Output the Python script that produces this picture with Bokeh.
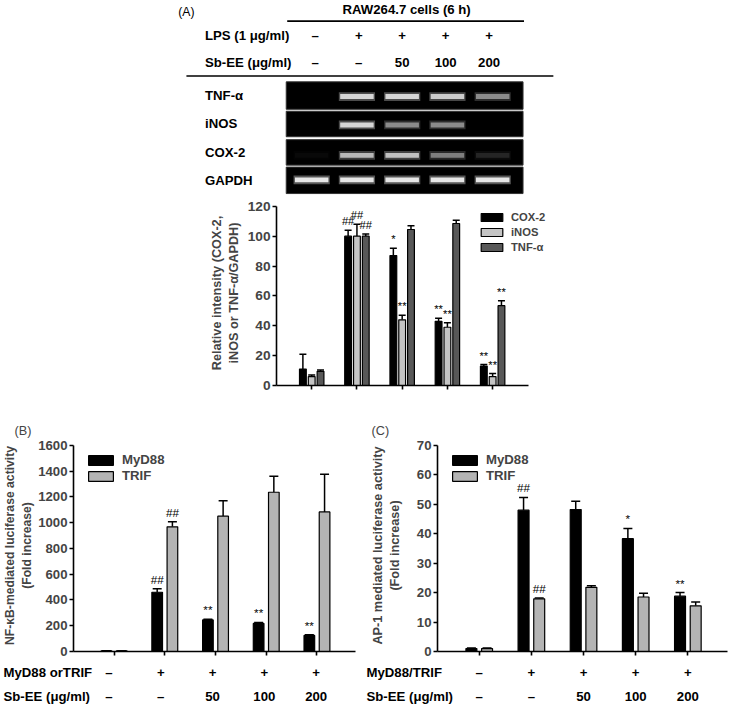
from bokeh.plotting import figure
from bokeh.models import Range1d, ColumnDataSource, Whisker, TeeHead, Legend, LegendItem
from bokeh.layouts import column, row
from bokeh.core.properties import value
from bokeh.embed import file_html
from bokeh.resources import INLINE

# ---------------- data ----------------
lanes = [1, 2, 3, 4, 5]
lps_row = ["–", "+", "+", "+", "+"]
sbee_row = ["–", "–", "50", "100", "200"]
table_title = "RAW264.7 cells (6 h)"
lps_label = "LPS (1 μg/ml)"
sbee_label = "Sb-EE (μg/ml)"

gel_genes = ["TNF-α", "iNOS", "COX-2", "GAPDH"]
tnf_band = [0.0, 0.85, 0.85, 0.8, 0.5]
inos_band = [0.0, 0.85, 0.5, 0.5, 0.0]
cox2_band = [0.03, 0.7, 0.75, 0.45, 0.12]
gapdh_band = [0.95, 0.95, 0.95, 0.95, 0.95]

a_names = ["COX-2", "iNOS", "TNF-α"]
a_cox2 = [11, 100, 87, 43, 13]
a_cox2_err = [10, 4, 5, 2, 1]
a_inos = [6, 100, 44, 39, 6]
a_inos_err = [1, 8, 3, 3, 2]
a_tnf = [9.5, 100, 104.5, 108.5, 53.5]
a_tnf_err = [0.8, 1.5, 2.5, 2.2, 3.3]
a_cox2_sig = ["", "##", "*", "**", "**"]
a_inos_sig = ["", "##", "**", "**", "**"]
a_tnf_sig = ["", "##", "", "", "**"]
a_yticks = [0, 20, 40, 60, 80, 100, 120]

b_names = ["MyD88", "TRIF"]
b_myd88 = [5, 460, 245, 218, 125]
b_myd88_err = [1, 27, 6, 8, 5]
b_trif = [5, 968, 1050, 1236, 1083]
b_trif_err = [1, 40, 120, 125, 293]
b_myd88_sig = ["", "##", "**", "**", "**"]
b_trif_sig = ["", "##", "", "", ""]
b_yticks = [0, 200, 400, 600, 800, 1000, 1200, 1400, 1600]
b_row1_label = "MyD88 orTRIF"

c_myd88 = [1, 48, 48.2, 38.3, 18.8]
c_myd88_err = [0.2, 4.3, 2.8, 3.5, 1.2]
c_trif = [1, 17.9, 21.8, 18.5, 15.5]
c_trif_err = [0.2, 0.3, 0.5, 1.3, 1.3]
c_myd88_sig = ["", "##", "", "*", "**"]
c_trif_sig = ["", "##", "", "", ""]
c_yticks = [0, 10, 20, 30, 40, 50, 60, 70]
c_row1_label = "MyD88/TRIF"

# ---------------- layout helpers ----------------
SC = 0.978
def S(v):
    return int(round(v * SC))
def fs(v):
    return f"{v * SC:.1f}px"
FONT = "Liberation Sans"
W = S(745)

def lane(px):  # reference pixel -> lane unit in panel A
    return 1 + (px - 318) / 46.25

def base_fig(width, height, xr, yr, **kw):
    p = figure(width=width, height=height, x_range=xr, y_range=yr,
               output_backend="svg", toolbar_location=None, **kw)
    p.outline_line_color = None
    p.background_fill_color = "white"
    p.border_fill_color = "white"
    if "frame_align" in p.properties():
        p.frame_align = False
    return p

def style_axes(p, tick_fs, label_fs, label_standoff):
    for ax in p.axis:
        ax.axis_line_width = 1.6
        ax.major_tick_line_width = 1.6
        ax.minor_tick_line_color = None
        ax.major_tick_in = 0
        ax.major_tick_out = S(4)
        ax.major_label_text_font = FONT
        ax.major_label_text_font_style = "bold"
        ax.major_label_text_font_size = fs(tick_fs)
        ax.major_label_standoff = S(2)
        ax.axis_label_text_font = FONT
        ax.axis_label_text_font_style = "bold"
        ax.axis_label_text_font_size = fs(label_fs)
        ax.axis_label_standoff = S(label_standoff)
    p.xaxis.major_label_overrides = {l: "" for l in lanes}
    p.xaxis.major_label_standoff = 0
    p.xgrid.visible = False
    p.ygrid.visible = False

def add_series(p, xs, vals, errs, sig, color, width, head, sig_fs):
    ups = [v + e for v, e in zip(vals, errs)]
    src = ColumnDataSource(dict(x=xs, top=vals, up=ups))
    r = p.vbar(x="x", top="top", width=width, source=src, fill_color=color,
               line_color="black", line_width=1.2)
    p.add_layout(Whisker(source=src, base="x", lower="top", upper="up", line_width=1.5,
                         upper_head=TeeHead(size=head, line_width=1.5), lower_head=None))
    keep = [i for i, s in enumerate(sig) if s]
    if keep:
        p.text(x=[xs[i] for i in keep], y=[ups[i] for i in keep], text=[sig[i] for i in keep],
               text_align="center", text_baseline="bottom", y_offset=-S(3),
               text_font=value(FONT), text_font_size=fs(sig_fs), text_color="black")
    return r

# ---------------- gel / table (top of panel A) ----------------
gel_h = S(200)
g = base_fig(W, gel_h, Range1d(lane(0), lane(745)), Range1d(200, 0),
             x_axis_type=None, y_axis_type=None,
             min_border_left=0, min_border_right=0, min_border_top=0, min_border_bottom=0)
g.text(x=[lane(190)], y=[12], text=["(A)"], text_align="center", text_baseline="middle",
       text_font=value(FONT), text_font_size=fs(12.5))
g.text(x=[lane(415)], y=[9], text=[table_title], text_align="center", text_baseline="middle",
       text_font=value(FONT), text_font_style="bold", text_font_size=fs(13.5))
g.segment(x0=[lane(293), lane(190)], y0=[21, 77], x1=[lane(535), lane(565)], y1=[21, 77],
          line_color="black", line_width=1.6)
table_x = [3 + (l - 3) * 0.96 for l in lanes]
g.text(x=[lane(209)] * 2, y=[36, 63], text=[lps_label, sbee_label], text_align="left",
       text_baseline="middle", text_font=value(FONT), text_font_style="bold", text_font_size=fs(13.5))
g.text(x=table_x + table_x, y=[36] * 5 + [63] * 5, text=lps_row + sbee_row, text_align="center",
       text_baseline="middle", text_font=value(FONT), text_font_style="bold", text_font_size=fs(13.5))
# gel strips
row_top = [83, 113, 142, 170]
row_bot = [111, 139, 168, 197]
band_y = [98, 127, 158, 183]
g.quad(left=[lane(292)] * 4, right=[lane(534)] * 4, top=row_top, bottom=row_bot,
       fill_color="black", line_color="#333333", line_width=1)
g.text(x=[lane(209)] * 4, y=[(a + b) / 2 for a, b in zip(row_top, row_bot)], text=gel_genes,
       text_align="left", text_baseline="middle", text_font=value(FONT), text_font_style="bold",
       text_font_size=fs(13.5))
for inten, by in zip([tnf_band, inos_band, cox2_band, gapdh_band], band_y):
    g.rect(x=lanes, y=[by] * 5, width=0.8, height=9, fill_color="white",
           fill_alpha=[0.35 * i for i in inten], line_color=None)
    g.rect(x=lanes, y=[by] * 5, width=0.74, height=5, fill_color="white",
           fill_alpha=[0.9 * i for i in inten], line_color=None)

# ---------------- panel A chart ----------------
A_FIG_TOP, A_FIG_BOT = 200, 410
A_TOP, A_BOT, A_AX_TOP = 204, 394, 210
A_RIGHT = 600
a_h = S(A_FIG_BOT) - S(A_FIG_TOP)
pA = base_fig(W, a_h, Range1d(lane(282), lane(A_RIGHT)),
              Range1d(0, 120 * (A_BOT - A_TOP) / (A_BOT - A_AX_TOP)),
              min_border_left=S(282), min_border_right=W - S(A_RIGHT),
              min_border_top=S(A_TOP) - S(A_FIG_TOP), min_border_bottom=S(A_FIG_BOT) - S(A_BOT))
offs = [-0.195, 0.0, 0.195]
rA = []
for vals, errs, sig, col, off in zip([a_cox2, a_inos, a_tnf], [a_cox2_err, a_inos_err, a_tnf_err],
                                     [a_cox2_sig, a_inos_sig, a_tnf_sig],
                                     ["black", "#c4c4c4", "#585858"], offs):
    rA.append(add_series(pA, [l + off for l in lanes], vals, errs, sig, col, 0.15, S(7), 11.5))
pA.yaxis.ticker = a_yticks
pA.yaxis.bounds = (0, 120)
pA.xaxis.ticker = lanes
pA.xaxis.bounds = (lane(282), lane(540))
pA.yaxis.axis_label = "Relative intensity (COX-2,\niNOS or TNF-α/GAPDH)"
style_axes(pA, 14, 13, 4)
legA = Legend(items=[LegendItem(label=n, renderers=[r]) for n, r in zip(a_names, rA)],
              location=(S(489 - 282), S(135)), glyph_width=S(28), glyph_height=S(10),
              label_height=S(10), spacing=S(3), padding=0, margin=0, border_line_color=None,
              background_fill_alpha=0, label_text_font=FONT, label_text_font_style="bold",
              label_text_font_size=fs(11.5), label_standoff=S(6))
pA.add_layout(legA)

# ---------------- panels B and C ----------------
B_FIG_TOP, B_FIG_BOT = A_FIG_BOT, 676
F_TOP, F_AX_TOP, F_BOT = 449, 455, 666
chart_h = S(B_FIG_BOT) - S(B_FIG_TOP)
tab_h = S(721) - S(B_FIG_BOT)
wB = S(370)
wC = W - wB

def luc_panel(width, lb_ref, rb_ref, title, myd, myd_e, myd_s, trif, trif_e, trif_s, yticks, ymax,
              ylabel, ylabel_fs, ylabel_standoff, row1_label, label_left_ref):
    xr = Range1d(0.2, 5.76)
    lb = S(lb_ref)
    rb = max(width - S(width / SC - rb_ref), 1)
    p = base_fig(width, chart_h, xr, Range1d(0, ymax * (F_BOT - F_TOP) / (F_BOT - F_AX_TOP)),
                 min_border_left=lb, min_border_right=rb,
                 min_border_top=S(F_TOP) - S(B_FIG_TOP), min_border_bottom=S(B_FIG_BOT) - S(F_BOT))
    rs = []
    for vals, errs, sig, col, off in zip([myd, trif], [myd_e, trif_e], [myd_s, trif_s],
                                         ["black", "#b4b4b4"], [-0.15, 0.15]):
        rs.append(add_series(p, [l + off for l in lanes], vals, errs, sig, col, 0.21, S(9), 12))
    p.yaxis.ticker = yticks
    p.yaxis.bounds = (0, ymax)
    p.xaxis.ticker = lanes
    p.yaxis.axis_label = ylabel
    style_axes(p, 13.5, ylabel_fs, ylabel_standoff)
    leg = Legend(items=[LegendItem(label=n, renderers=[r]) for n, r in zip(b_names, rs)],
                 location=(S(12), S(172)), glyph_width=S(32), glyph_height=S(12),
                 label_height=S(12), spacing=S(1), padding=0, margin=0, border_line_color=None,
                 background_fill_alpha=0, label_text_font=FONT, label_text_font_style="bold",
                 label_text_font_size=fs(13.5), label_standoff=S(6))
    p.add_layout(leg)
    p.title.text = title
    p.title.align = "left"
    p.title.offset = -(lb - S(label_left_ref + 5))
    p.title.text_font = FONT
    p.title.text_font_style = "normal"
    p.title.text_font_size = fs(13)
    p.title.standoff = S(4)
    # table below, sharing the horizontal scale of the chart
    fw = width - lb - rb
    k = fw / (xr.end - xr.start)
    t0 = xr.start - lb / k
    t1 = xr.end + rb / k
    t = base_fig(width, tab_h, Range1d(t0, t1), Range1d(2.36, 0.56), x_axis_type=None, y_axis_type=None,
                 min_border_left=0, min_border_right=0, min_border_top=0, min_border_bottom=0)
    lx = t0 + S(label_left_ref) / k
    t.text(x=[lx, lx], y=[1, 2], text=[row1_label, sbee_label], text_align="left", text_baseline="middle",
           text_font=value(FONT), text_font_style="bold", text_font_size=fs(13.5))
    t.text(x=lanes + lanes, y=[1] * 5 + [2] * 5, text=lps_row + sbee_row, text_align="center",
           text_baseline="middle", text_font=value(FONT), text_font_style="bold", text_font_size=fs(13.5))
    return column(p, t)

colB = luc_panel(wB, 68, 7, "(B)", b_myd88, b_myd88_err, b_myd88_sig, b_trif, b_trif_err, b_trif_sig,
                 b_yticks, 1600, "NF-κB-mediated luciferase activity\n(Fold increase)", 12.5, 1,
                 b_row1_label, 3)
colC = luc_panel(wC, 77, 2, "(C)", c_myd88, c_myd88_err, c_myd88_sig, c_trif, c_trif_err, c_trif_sig,
                 c_yticks, 70, "AP-1 mediated luciferase activity\n(Fold increase)", 13, 12,
                 c_row1_label, 4)

layout = column(g, pA, row(colB, colC))
open("out.html", "w").write(file_html(layout, INLINE))
